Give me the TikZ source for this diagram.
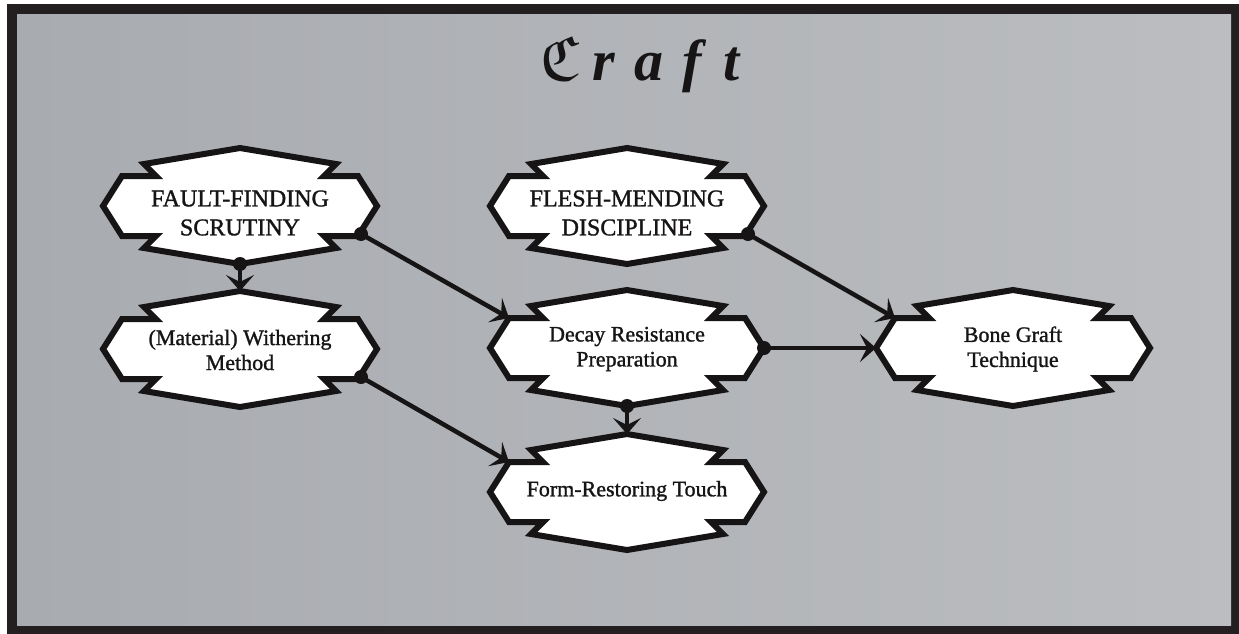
\documentclass[tikz,border=0pt]{standalone}
\usepackage{amssymb}
\usepackage{graphicx}
\usepackage{fontspec}
\setmainfont{Liberation Serif}
\newfontfamily\nodefont{Liberation Serif}[FakeBold=1.2]
\usetikzlibrary{arrows.meta}
\definecolor{framecol}{RGB}{35,31,32}
\definecolor{bgL}{RGB}{168,171,176}
\definecolor{bgR}{RGB}{187,189,192}
\definecolor{inkcol}{RGB}{22,20,20}
\begin{document}
\begin{tikzpicture}[x=1pt,y=-1pt,
  boxline/.style={draw=inkcol, line width=6pt, fill=white, line join=miter, miter limit=10},
  lbl/.style={align=center, font=\nodefont\fontsize{22}{25}\selectfont, inner sep=0pt, text=inkcol},
  caplbl/.style={align=center, font=\nodefont\fontsize{24}{29}\selectfont, inner sep=0pt, text=inkcol},
  conn/.style={draw=inkcol, line width=4.5pt, -{Stealth[length=16pt,width=28pt,inset=7pt]}},
  dot/.style={fill=inkcol},
  titlestyle/.style={anchor=base, inner sep=0pt, text=inkcol, font=\fontsize{58}{58}\selectfont\bfseries\itshape},
  pics/craftbox/.style={code={
    \path[boxline] (0,-58) -- (96,-42) -- (84,-30) -- (118,-30) -- (137,0) -- (118,30) -- (84,30) -- (96,42)
      -- (0,58) -- (-96,42) -- (-84,30) -- (-118,30) -- (-137,0) -- (-118,-30) -- (-84,-30) -- (-96,-42) -- cycle;
    \coordinate (-top) at (0,-58);
    \coordinate (-bot) at (0,58);
    \coordinate (-left) at (-137,0);
    \coordinate (-right) at (137,0);
    \coordinate (-tl) at (-118,-30);
    \coordinate (-br) at (121,28);
  }}
]
% frame and background
\useasboundingbox (0,0) rectangle (1239,634);
\fill[white] (0,0) rectangle (1239,634);
\fill[framecol] (7,4) rectangle (1239,634);
\shade[left color=bgL, right color=bgR] (17,15) rectangle (1231,625);

% title
\node[titlestyle] (title) at (640,81) {\resizebox{!}{44pt}{$\mathfrak{C}$}\hspace{14pt}r\hspace{19pt}a\hspace{19pt}f\hspace{22pt}t};

% node outlines
\pic (b1) at (240,206) {craftbox};
\pic (b2) at (627,206) {craftbox};
\pic (b3) at (240,349) {craftbox};
\pic (b4) at (627,348) {craftbox};
\pic (b5) at (627,492) {craftbox};
\pic (b6) at (1013,348) {craftbox};

% node texts
\node[caplbl] (n1) at (240,213) {FAULT-FINDING\\SCRUTINY};
\node[caplbl] (n2) at (627,213) {FLESH-MENDING\\DISCIPLINE};
\node[lbl] (n3) at (240,350) {(Material) Withering\\Method};
\node[lbl] (n4) at (627,349) {Decay Resistance\\Preparation};
\node[lbl] (n5) at (627,491) {Form-Restoring Touch};
\node[lbl] (n6) at (1013,349) {Bone Graft\\Technique};

% connectors
\draw[conn] (b1-bot) -- (b3-top);
\draw[conn] (b1-br) -- (b4-tl);
\draw[conn] (b3-br) -- (b5-tl);
\draw[conn] (b2-br) -- (b6-tl);
\draw[conn] (b4-right) -- (b6-left);
\draw[conn] (b4-bot) -- (b5-top);
\foreach \p in {b1-bot,b1-br,b3-br,b2-br,b4-right,b4-bot}
  \fill[dot] (\p) circle[radius=7pt];
\end{tikzpicture}
\end{document}
